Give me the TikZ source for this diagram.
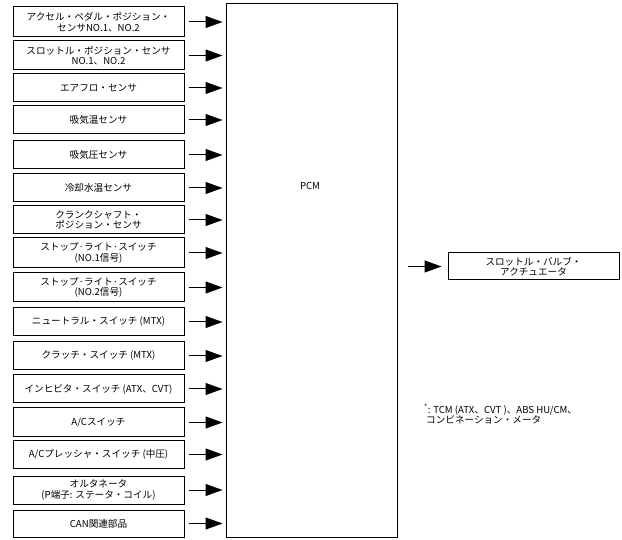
\documentclass[tikz,border=0pt]{standalone}
\usepackage{fontspec}
\setmainfont{Noto Sans CJK JP}
\usetikzlibrary{arrows.meta}
\begin{document}
\begin{tikzpicture}[x=1pt,y=-1pt,
  inbox/.style={draw,line width=1pt,minimum width=171pt,inner sep=0pt,align=center,font=\fontsize{9.6}{10.6}\selectfont},
  arr/.style={line width=1pt,-{Triangle[length=17pt,width=12pt]}},
  lbl/.style={font=\fontsize{9.6}{10.6}\selectfont,inner sep=0pt}]
\useasboundingbox (0,0) rectangle (622,540);
\node[draw,line width=1pt,minimum width=171pt,minimum height=534pt,anchor=north west,inner sep=0pt] (pcm) at (226,3) {};
\node[lbl] (pcmlabel) at (310,186) {PCM};
\node[inbox,minimum height=30pt] (b1) at (98.5,22) {アクセル・ペダル・ポジション・\\センサNO.1、NO.2};
\node[inbox,minimum height=29pt] (b2) at (98.5,55.5) {スロットル・ポジション・センサ\\NO.1、NO.2};
\node[inbox,minimum height=28pt] (b3) at (98.5,88) {エアフロ・センサ};
\node[inbox,minimum height=28pt] (b4) at (98.5,120) {吸気温センサ};
\node[inbox,minimum height=28pt] (b5) at (98.5,155) {吸気圧センサ};
\node[inbox,minimum height=28pt] (b6) at (98.5,188) {冷却水温センサ};
\node[inbox,minimum height=28pt] (b7) at (98.5,220) {クランクシャフト・\\ポジション・センサ};
\node[inbox,minimum height=30pt] (b8) at (98.5,253) {ストップ·ライト·スイッチ\\(NO.1信号)};
\node[inbox,minimum height=29pt] (b9) at (98.5,287.5) {ストップ·ライト·スイッチ\\(NO.2信号)};
\node[inbox,minimum height=28pt] (b10) at (98.5,322) {ニュートラル・スイッチ (MTX)};
\node[inbox,minimum height=28pt] (b11) at (98.5,356) {クラッチ・スイッチ (MTX)};
\node[inbox,minimum height=28pt] (b12) at (98.5,389) {インヒビタ・スイッチ (ATX、CVT)};
\node[inbox,minimum height=29pt] (b13) at (98.5,422.5) {A/Cスイッチ};
\node[inbox,minimum height=27pt] (b14) at (98.5,454.5) {A/Cプレッシャ・スイッチ (中圧)};
\node[inbox,minimum height=28pt] (b15) at (98.5,490) {オルタネータ\\(P端子: ステータ・コイル)};
\node[inbox,minimum height=27pt] (b16) at (98.5,523.5) {CAN関連部品};
\foreach \i in {1,...,16}{
  \draw[arr,shorten <=4pt,shorten >=3.5pt] (b\i.east) -- (b\i.east -| pcm.west);
}
\node[inbox,minimum width=171pt,minimum height=27pt] (out) at (533.5,266.5) {スロットル・バルブ・\\アクチュエータ};
\draw[arr,shorten <=10pt,shorten >=6pt] (pcm.east |- out.west) -- (out.west);
\node[lbl,align=left,anchor=north west] (note) at (424,404) {\textsuperscript{*}: TCM (ATX、CVT )、ABS HU/CM、\\\hspace{2pt}コンビネーション・メータ};
\end{tikzpicture}
\end{document}
